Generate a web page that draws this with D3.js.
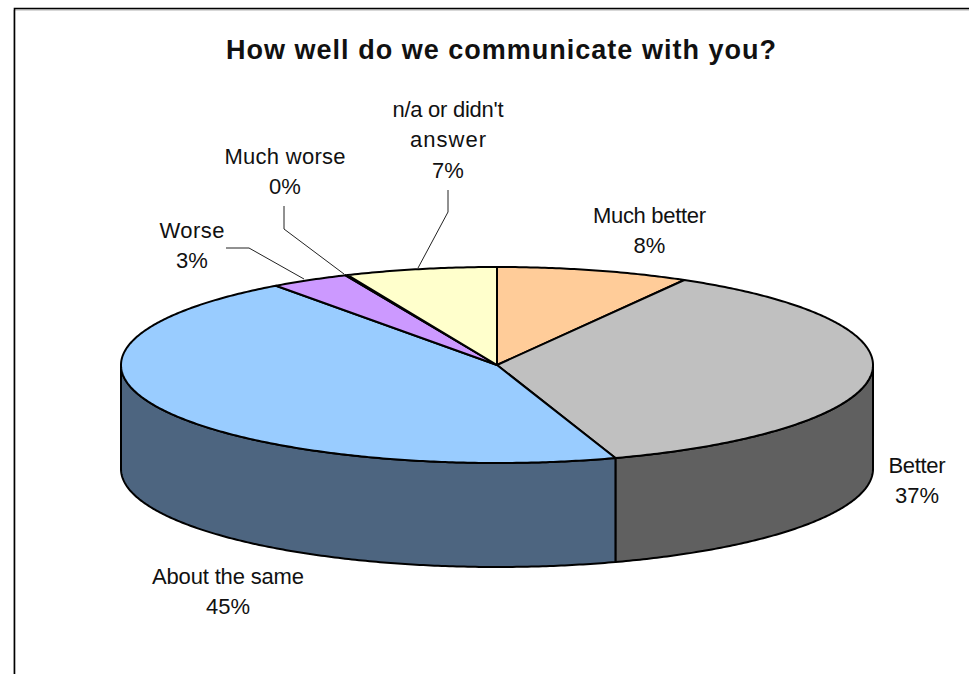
<!DOCTYPE html>
<html><head><meta charset="utf-8">
<style>html,body{margin:0;padding:0;background:#fff;overflow:hidden}svg{display:block}text{font-family:"Liberation Sans",Arial,sans-serif;fill:#111}</style>
<script src="https://cdnjs.cloudflare.com/ajax/libs/d3/7.8.5/d3.min.js"></script></head>
<body><svg id="c" width="969" height="674"></svg>
<script>
const titleText = "How well do we communicate with you?";
const categories = ["Much better","Better","About the same","Worse","Much worse","n/a or didn't answer"];
const shares = [8.3,36.6,45.1,3.4,0.1,6.5];
const shownPercent = [8,37,45,3,0,7];
const topColors = ["#FFCC99","#C0C0C0","#99CCFF","#CC99FF","#FF99CC","#FFFFCC"];
const wallColors = ["#806650","#606060","#4D6580","#664D80","#804D66","#808066"];
const labelLines = [["Much better"],["Better"],["About the same"],["Worse"],["Much worse"],["n/a or didn't","answer"]];

const layout = {cx:497, cy:365, rx:376, ry:98, depth:104};
const labelPos = [[649.5,223],[917,473],[228,584],[192,238],[285,164],[448,117]];
const labelWidths = {"Much better":113,"Better":57,"About the same":152,"Worse":65,"Much worse":121,"n/a or didn't":111,"answer":76};
const leaders = [null,null,null,[[226,248],[249,248],[304,279]],[[284,206],[284,229],[344,274]],[[448,190],[448,212],[418,268]]];

const svg = d3.select("#c");
const px = d3.scaleLinear().domain([-1,1]).range([layout.cx-layout.rx, layout.cx+layout.rx]);
const py = d3.scaleLinear().domain([-1,1]).range([layout.cy-layout.ry, layout.cy+layout.ry]);
const pie = d3.pie().sort(null).startAngle(0).endAngle(2*Math.PI);
const arcs = pie(shares);
const rim = (a0,a1,dy=0)=>{ const n=Math.max(2,Math.ceil(Math.abs(a1-a0)/0.01)); 
  return d3.range(n+1).map(i=>{const a=a0+(a1-a0)*i/n; return [px(Math.sin(a)), py(-Math.cos(a))+dy];}); };
const line = d3.line();

// frame
svg.append("path").attr("d","M14,674V9H969").attr("fill","none").attr("stroke","#b0b0b0").attr("stroke-width",1).attr("transform","translate(0,1)");
svg.append("path").attr("d","M14.5,674V8.5H969").attr("fill","none").attr("stroke","#000").attr("stroke-width",1.6);

// walls
const lo=Math.PI/2, hi=3*Math.PI/2;
arcs.forEach((d,i)=>{
  const a0=Math.max(d.startAngle,lo), a1=Math.min(d.endAngle,hi);
  if(a1<=a0) return;
  const top=rim(a0,a1), bot=rim(a1,a0,layout.depth);
  svg.append("path").attr("d",line(top.concat(bot))+"Z").attr("fill",wallColors[i])
    .attr("stroke","#000").attr("stroke-width",2).attr("stroke-linejoin","round");
});
// top faces
arcs.forEach((d,i)=>{
  const pts=[[layout.cx,layout.cy]].concat(rim(d.startAngle,d.endAngle));
  svg.append("path").attr("d",line(pts)+"Z").attr("fill",topColors[i])
    .attr("stroke","#000").attr("stroke-width",2).attr("stroke-linejoin","round");
});
// leaders
leaders.forEach(l=>{ if(l) svg.append("path").attr("d",line(l)).attr("fill","none").attr("stroke","#222").attr("stroke-width",1); });

// title
svg.append("text").attr("x",501).attr("y",59).attr("text-anchor","middle")
  .attr("font-size",27).attr("font-weight","bold").attr("textLength",550).attr("lengthAdjust","spacing").text(titleText);
// labels
categories.forEach((c,i)=>{
  const [x,y]=labelPos[i];
  const lines=labelLines[i].concat([shownPercent[i]+"%"]);
  lines.forEach((t,j)=>{
    const e=svg.append("text").attr("x",x).attr("y",y+j*30.3).attr("text-anchor","middle").attr("font-size",22).text(t);
    if(labelWidths[t]) e.attr("textLength",labelWidths[t]).attr("lengthAdjust","spacing");
  });
});
</script></body></html>
